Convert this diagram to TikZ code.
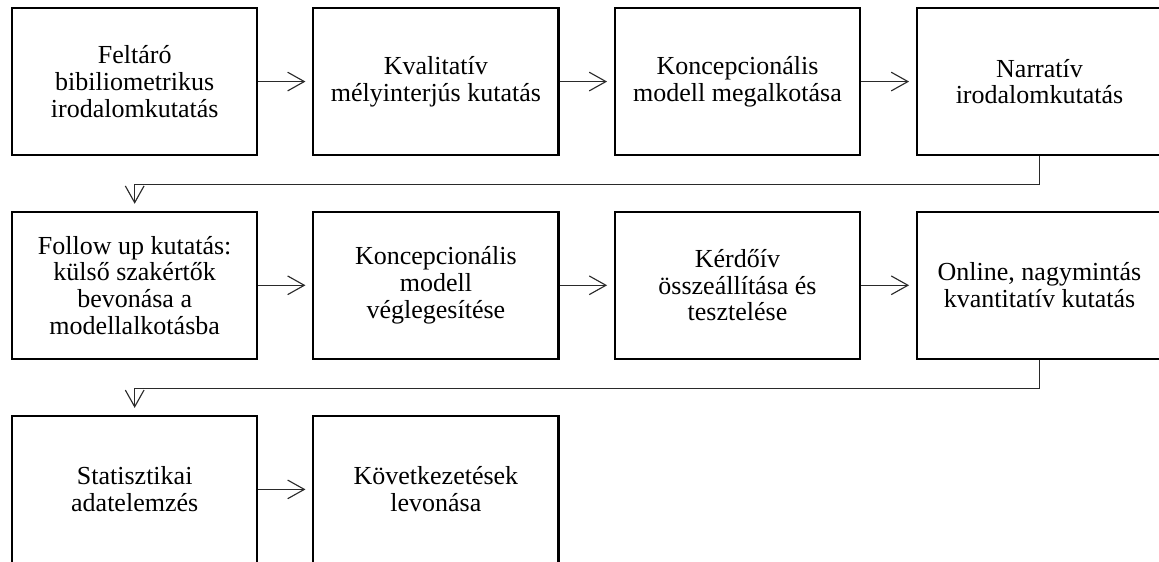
\documentclass[tikz,border=0pt]{standalone}
\usepackage{fontspec}
\setmainfont{Liberation Serif}
\usepackage{tikz}
\usetikzlibrary{arrows.meta}
\definecolor{cnyil}{HTML}{2A2A2A}

\begin{document}
\begin{tikzpicture}[>={Straight Barb[length=12.5pt,width=14pt]},
    lepes/.style={draw,line width=1.6pt,minimum width=6.46cm,minimum height=3.88cm,
      inner sep=0pt,align=center,font=\fontsize{19.5}{20}\selectfont},
    nyil/.style={->,line width=0.85pt,cnyil,shorten >=0.18cm}]
    \useasboundingbox (0,0) rectangle (30.55,14.81);
    % elso sor
    \node[lepes] (felt) at (3.55,12.66) {Feltáró\\bibiliometrikus\\irodalomkutatás};
    \node[lepes] (kval) at (11.49,12.66) {Kvalitatív\\mélyinterjús kutatás};
    \node[lepes] (konc) at (19.44,12.66) {Koncepcionális\\modell megalkotása};
    \node[lepes] (narr) at (27.40,12.66) {Narratív\\irodalomkutatás};
    % masodik sor
    \node[lepes] (foll) at (3.55,7.29) {Follow up kutatás:\\külső szakértők\\bevonása a\\modellalkotásba};
    \node[lepes] (vegl) at (11.49,7.29) {Koncepcionális\\modell\\véglegesítése};
    \node[lepes] (kerd) at (19.44,7.29) {Kérdőív\\összeállítása és\\tesztelése};
    \node[lepes] (onl) at (27.40,7.29) {Online, nagymintás\\kvantitatív kutatás};
    % harmadik sor
    \node[lepes] (stat) at (3.55,1.91) {Statisztikai\\adatelemzés};
    \node[lepes] (kov) at (11.49,1.91) {Következetések\\levonása};
    \draw[nyil] (felt) -- (kval);
    \draw[nyil] (kval) -- (konc);
    \draw[nyil] (konc) -- (narr);
    \draw[nyil] (narr.south) -- ++(0,-0.75) -| (foll.north);
    \draw[nyil] (foll) -- (vegl);
    \draw[nyil] (vegl) -- (kerd);
    \draw[nyil] (kerd) -- (onl);
    \draw[nyil] (onl.south) -- ++(0,-0.75) -| (stat.north);
    \draw[nyil] (stat) -- (kov);
  \end{tikzpicture}
\end{document}
